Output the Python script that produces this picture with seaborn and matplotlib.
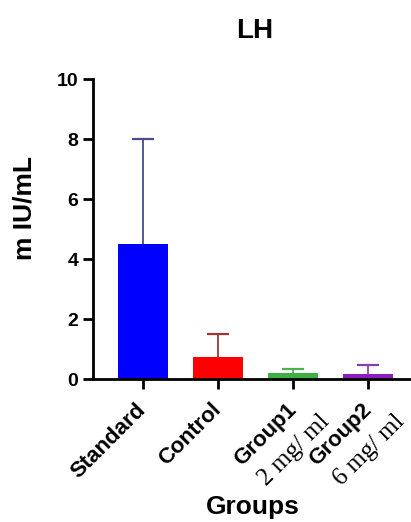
import matplotlib
matplotlib.use("Agg")
import matplotlib.pyplot as plt
import matplotlib.transforms as mtransforms
import seaborn as sns
import pandas as pd

groups = ["Standard", "Control", "Group1", "Group2"]
means = [4.5, 0.75, 0.2, 0.17]
sd_upper = [3.5, 0.75, 0.13, 0.3]
bar_colors = ["#0000ff", "#ff0000", "#3cb043", "#8a1fc0"]
err_colors = ["#4a4a8c", "#a83232", "#4caf50", "#8a3fb0"]
dose_labels = ["", "", "2 mg/ ml", "6 mg/ ml"]
yticks = [0, 2, 4, 6, 8, 10]

sns.set_theme(style="ticks")
plt.rcParams["font.family"] = ["Liberation Sans", "DejaVu Sans"]
plt.rcParams["text.color"] = "black"
plt.rcParams["xtick.color"] = "black"
plt.rcParams["ytick.color"] = "black"
plt.rcParams["axes.labelcolor"] = "black"

df = pd.DataFrame({"group": groups, "value": means})

fig = plt.figure(figsize=(4.11, 5.22), dpi=100)
ax = fig.add_axes([93 / 411, 1 - 379 / 522, (411 - 93) / 411, 300 / 522])

sns.barplot(data=df, x="group", y="value", hue="group", palette=bar_colors,
            order=groups, hue_order=groups, errorbar=None, width=0.667,
            legend=False, ax=ax, linewidth=0, saturation=1)

for i, (m, e, c) in enumerate(zip(means, sd_upper, err_colors)):
    _, caps, _ = ax.errorbar(i, m, yerr=[[0], [e]], fmt="none", ecolor=c,
                             elinewidth=1.3, capsize=8, capthick=1.6, zorder=1)
    caps[0].set_visible(False)

ax.set_xlim(-0.667, 3.573)
ax.set_ylim(0, 10)
ax.set_yticks(yticks)
ax.set_yticklabels([str(t) for t in yticks], fontsize=14, fontweight="bold")
ax.set_xticks(range(len(groups)))
ax.set_xticklabels(groups, fontsize=16, fontweight="bold", rotation=45,
                   ha="right", va="center", rotation_mode="anchor")
ax.tick_params(axis="both", length=7, width=2, color="black")
ax.tick_params(axis="x", pad=13)
ax.set_xlabel("")
ax.set_ylabel("")
for s in ["top", "right"]:
    ax.spines[s].set_visible(False)
for s in ["left", "bottom"]:
    ax.spines[s].set_linewidth(2)
    ax.spines[s].set_color("black")

# second line of the dose labels (serif, as in the original)
for i, lab in enumerate(dose_labels):
    if not lab:
        continue
    tr = ax.get_xaxis_transform() + mtransforms.ScaledTranslation(24 / 72, -28 / 72, fig.dpi_scale_trans)
    ax.text(i, 0, lab, transform=tr, rotation=45, ha="right", va="center",
            rotation_mode="anchor", fontsize=18, family="Liberation Serif")

fig.text(255 / 411, 1 - 31 / 522, "LH", ha="center", va="center",
         fontsize=20, fontweight="bold")
fig.text(25 / 411, 1 - 208 / 522, "m IU/mL", ha="center", va="center",
         rotation=90, fontsize=19, fontweight="bold")
fig.text(253 / 411, 1 - 507 / 522, "Groups", ha="center", va="center",
         fontsize=19, fontweight="bold")

fig.savefig("out.png", dpi=100)
